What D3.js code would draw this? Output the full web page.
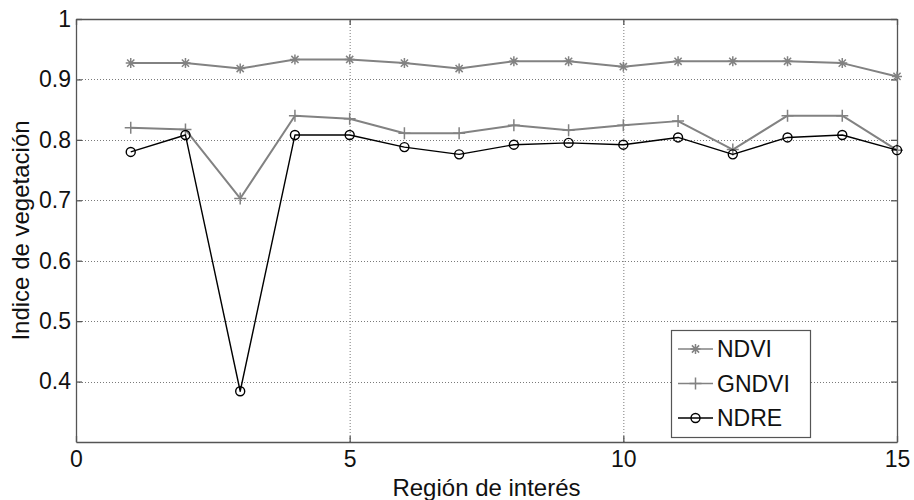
<!DOCTYPE html>
<html>
<head>
<meta charset="utf-8">
<script src="https://cdn.jsdelivr.net/npm/d3@7"></script>
<style>
  body { margin: 0; background: #fff; }
  svg { display: block; font-family: Arial, "Liberation Sans", sans-serif; }
</style>
</head>
<body>
<svg id="chart"></svg>
<script>
// Values
var regions = d3.range(1, 16);
var ndvi  = [0.927, 0.927, 0.918, 0.933, 0.933, 0.927, 0.918, 0.930, 0.930, 0.921, 0.930, 0.930, 0.930, 0.927, 0.905];
var gndvi = [0.820, 0.817, 0.703, 0.840, 0.835, 0.811, 0.811, 0.824, 0.816, 0.824, 0.831, 0.784, 0.840, 0.840, 0.783];
var ndre  = [0.780, 0.808, 0.384, 0.808, 0.808, 0.788, 0.776, 0.792, 0.795, 0.792, 0.804, 0.776, 0.804, 0.808, 0.783];
var xTicks = [0, 5, 10, 15];
var yTicks = [0.4, 0.5, 0.6, 0.7, 0.8, 0.9, 1];
var seriesNames = ["NDVI", "GNDVI", "NDRE"];

const width = 914, height = 500;
const margin = {top: 19, left: 76, right: 17, bottom: 58};

var svg = d3.select("#chart")
    .attr("width", width)
    .attr("height", height);

var x = d3.scaleLinear().domain([0, 15]).range([margin.left, width - margin.right]);
var y = d3.scaleLinear().domain([0.3, 1]).range([height - margin.bottom, margin.top]);

// grid (dotted)
var grid = svg.append("g")
    .attr("stroke", "#7a7a7a")
    .attr("stroke-width", 1)
    .attr("stroke-dasharray", "1,2");
grid.selectAll(".gx")
    .data(xTicks.filter(function(d) { return d > 0 && d < 15; })).enter()
    .append("line")
    .attr("x1", function(d) { return x(d) + 0.5; })
    .attr("x2", function(d) { return x(d) + 0.5; })
    .attr("y1", y(0.3)).attr("y2", y(1));
grid.selectAll(".gy")
    .data(yTicks.filter(function(d) { return d < 1; })).enter()
    .append("line")
    .attr("x1", x(0)).attr("x2", x(15))
    .attr("y1", function(d) { return Math.round(y(d)) + 0.5; })
    .attr("y2", function(d) { return Math.round(y(d)) + 0.5; });

// axes with inward ticks on all four sides
var axisColor = "#555";
svg.append("g")
    .attr("transform", `translate(0, ${y(0.3)})`)
    .call(d3.axisBottom(x).tickValues(xTicks).tickSizeInner(-6).tickSizeOuter(0).tickPadding(9))
    .call(styleAxis);
svg.append("g")
    .attr("transform", `translate(0, ${y(1)})`)
    .call(d3.axisTop(x).tickValues(xTicks).tickSizeInner(-6).tickSizeOuter(0).tickFormat(""))
    .call(styleAxis);
svg.append("g")
    .attr("transform", `translate(${x(0)}, 0)`)
    .call(d3.axisLeft(y).tickValues(yTicks).tickSizeInner(-6).tickSizeOuter(0).tickPadding(5)
        .tickFormat(function(d) { return d === 1 ? "1" : d3.format(".1f")(d); }))
    .call(styleAxis);
svg.append("g")
    .attr("transform", `translate(${x(15)}, 0)`)
    .call(d3.axisRight(y).tickValues(yTicks).tickSizeInner(-6).tickSizeOuter(0).tickFormat(""))
    .call(styleAxis);

function styleAxis(g) {
    g.select(".domain").attr("stroke", axisColor).attr("stroke-width", 1.3);
    g.selectAll(".tick line").attr("stroke", axisColor).attr("stroke-width", 1.3);
    g.selectAll(".tick text").attr("fill", "#111").style("font-size", "23px");
}

// axis titles
svg.append("text")
    .attr("x", (x(0) + x(15)) / 2)
    .attr("y", 496)
    .attr("text-anchor", "middle")
    .attr("fill", "#111")
    .style("font-size", "24px")
    .text("Región de interés");
svg.append("text")
    .attr("transform", `translate(29, ${(y(0.3) + y(1)) / 2}) rotate(-90)`)
    .attr("text-anchor", "middle")
    .attr("fill", "#111")
    .style("font-size", "24px")
    .text("Indice de vegetación");

// series
var series = [
    {name: seriesNames[0], values: ndvi, color: "#828282", width: 2, marker: "star"},
    {name: seriesNames[1], values: gndvi, color: "#828282", width: 2, marker: "plus"},
    {name: seriesNames[2], values: ndre, color: "#000", width: 1.4, marker: "circle"}
];

var line = d3.line()
    .x(function(d, i) { return x(regions[i]); })
    .y(function(d) { return y(d); });

function drawMarker(g, type, color) {
    if (type === "circle") {
        g.append("circle").attr("r", 4.5).attr("fill", "none")
            .attr("stroke", color).attr("stroke-width", 1.4);
    } else if (type === "plus") {
        g.append("path").attr("d", "M-6,0H6M0,-6V6")
            .attr("stroke", color).attr("stroke-width", 1.5);
    } else {
        g.append("path").attr("d", "M-5,0H5M0,-5V5M-3.6,-3.6L3.6,3.6M-3.6,3.6L3.6,-3.6")
            .attr("stroke", color).attr("stroke-width", 1.5);
    }
}

series.forEach(function(s) {
    svg.append("path")
        .datum(s.values)
        .attr("fill", "none")
        .attr("stroke", s.color)
        .attr("stroke-width", s.width)
        .attr("stroke-linejoin", "round")
        .attr("d", line);
    svg.append("g").selectAll("g")
        .data(s.values).enter()
        .append("g")
        .attr("transform", function(d, i) { return `translate(${x(regions[i])}, ${y(d)})`; })
        .each(function() { drawMarker(d3.select(this), s.marker, s.color); });
});

// legend
var legend = svg.append("g").attr("transform", "translate(671, 330)");
legend.append("rect")
    .attr("x", 0.5).attr("y", 0.5)
    .attr("width", 139).attr("height", 107)
    .attr("fill", "#fff")
    .attr("stroke", "#555")
    .attr("stroke-width", 1.2);
series.forEach(function(s, i) {
    var row = legend.append("g").attr("transform", `translate(0, ${19 + i * 34.5})`);
    row.append("line")
        .attr("x1", 7).attr("x2", 42)
        .attr("stroke", s.color)
        .attr("stroke-width", s.width === 2 ? 1.6 : 1.4);
    var m = row.append("g").attr("transform", "translate(24.5, 0)");
    drawMarker(m, s.marker, s.color);
    row.append("text")
        .attr("x", 46)
        .attr("dy", "0.36em")
        .attr("fill", "#111")
        .style("font-size", "23px")
        .text(s.name);
});
</script>
</body>
</html>
